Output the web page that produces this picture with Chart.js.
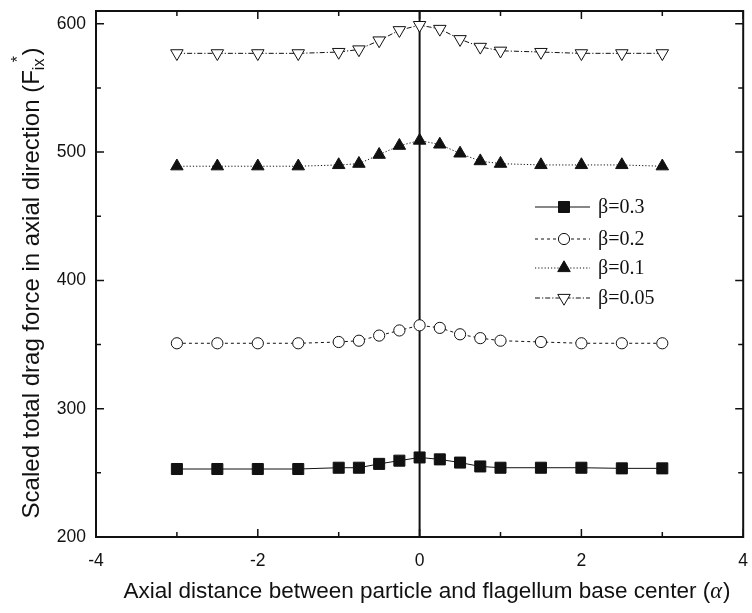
<!DOCTYPE html>
<html>
<head>
<meta charset="utf-8">
<script src="https://cdn.jsdelivr.net/npm/chart.js@4.4.1/dist/chart.umd.min.js"></script>
<style>
  html, body { margin: 0; padding: 0; background: #fff; }
  #wrap { width: 752px; height: 613px; }
</style>
</head>
<body>
<div id="wrap"><canvas id="c" width="752" height="613"></canvas></div>
<script>
// Axial distance (alpha) sampled for every curve
const alphaValues = [-3, -2.5, -2, -1.5, -1, -0.75, -0.5, -0.25, 0, 0.25, 0.5, 0.75, 1, 1.5, 2, 2.5, 3];

// Scaled total drag force for each beta
const beta03  = [253, 253, 253, 253, 254, 254, 257, 259.5, 262, 260.5, 258, 255, 254, 254, 254, 253.5, 253.5];
const beta02  = [351, 351, 351, 351, 352, 353, 357, 361, 365, 363, 358, 355, 353, 352, 351, 351, 351];
const beta01  = [489, 489, 489, 489, 490, 491, 498, 505, 509, 506, 499, 493, 491, 490, 490, 490, 489];
const beta005 = [577, 577, 577, 577, 578, 580, 587, 595, 599, 596, 588, 582, 579, 578, 577, 577, 577];

const seriesLabels = ['β=0.3', 'β=0.2', 'β=0.1', 'β=0.05'];

// Axis ticks
const xMajorTicks = [-4, -2, 0, 2, 4];
const xMinorTicks = [-3, -1, 1, 3];
const yMajorTicks = [200, 300, 400, 500, 600];
const yMinorTicks = [250, 350, 450, 550];

const toPoints = (ys) => ys.map((v, i) => ({ x: alphaValues[i], y: v }));

const INK = '#111';
const SANS = '"Liberation Sans", Arial, sans-serif';
const SERIF = '"Liberation Serif", "Times New Roman", serif';

const datasets = [
  { label: seriesLabels[0], data: toPoints(beta03), borderDash: [],
    pointStyle: 'rect', pointRadius: 7.8, backgroundColor: INK, pointRotation: 0 },
  { label: seriesLabels[1], data: toPoints(beta02), borderDash: [3, 3],
    pointStyle: 'circle', pointRadius: 5.6, backgroundColor: '#fff', pointRotation: 0 },
  { label: seriesLabels[2], data: toPoints(beta01), borderDash: [1.2, 2],
    pointStyle: 'triangle', pointRadius: 7.2, backgroundColor: INK, pointRotation: 0 },
  { label: seriesLabels[3], data: toPoints(beta005), borderDash: [5, 2, 1.2, 2],
    pointStyle: 'triangle', pointRadius: 7.2, backgroundColor: '#fff', pointRotation: 180 }
].map(d => Object.assign({
  showLine: true,
  borderColor: INK,
  borderWidth: 1,
  pointBorderColor: INK,
  pointBackgroundColor: d.backgroundColor,
  pointBorderWidth: 1,
  pointHoverRadius: d.pointRadius,
  tension: 0
}, d));

function drawMarker(ctx, ds, x, y) {
  ctx.save();
  ctx.setLineDash([]);
  ctx.fillStyle = ds.pointBackgroundColor;
  ctx.strokeStyle = ds.pointBorderColor;
  ctx.lineWidth = ds.pointBorderWidth;
  if (Chart.helpers && Chart.helpers.drawPoint) {
    Chart.helpers.drawPoint(ctx, {
      pointStyle: ds.pointStyle, radius: ds.pointRadius,
      rotation: ds.pointRotation, borderWidth: ds.pointBorderWidth
    }, x, y);
  }
  ctx.restore();
}

// Boxed frame, inward ticks, zero line, legend and axis titles
const framePlugin = {
  id: 'framePlugin',
  beforeDatasetsDraw(chart) {
    const { ctx, chartArea: a, scales: { x } } = chart;
    const x0 = x.getPixelForValue(0);
    ctx.save();
    ctx.strokeStyle = INK;
    ctx.lineWidth = 2;
    ctx.beginPath();
    ctx.moveTo(x0, a.top);
    ctx.lineTo(x0, a.bottom);
    ctx.stroke();
    ctx.restore();
  },
  afterDatasetsDraw(chart) {
    const { ctx, chartArea: a, scales: { x, y } } = chart;
    ctx.save();
    ctx.strokeStyle = INK;
    ctx.lineWidth = 2;
    ctx.strokeRect(a.left, a.top, a.right - a.left, a.bottom - a.top);
    ctx.lineWidth = 1.5;
    const major = 8, minor = 5;
    const xTick = (v, len) => {
      const p = x.getPixelForValue(v);
      ctx.beginPath();
      ctx.moveTo(p, a.bottom); ctx.lineTo(p, a.bottom - len);
      ctx.moveTo(p, a.top); ctx.lineTo(p, a.top + len);
      ctx.stroke();
    };
    const yTick = (v, len) => {
      const p = y.getPixelForValue(v);
      ctx.beginPath();
      ctx.moveTo(a.left, p); ctx.lineTo(a.left + len, p);
      ctx.moveTo(a.right, p); ctx.lineTo(a.right - len, p);
      ctx.stroke();
    };
    x.ticks.forEach(t => xTick(t.value, major));
    xMinorTicks.forEach(v => xTick(v, minor));
    y.ticks.forEach(t => yTick(t.value, major));
    yMinorTicks.forEach(v => yTick(v, minor));
    ctx.restore();
  },
  afterDraw(chart) {
    const { ctx } = chart;
    // legend
    ctx.save();
    const rows = [207, 239, 268, 298];
    const lx0 = 535, lx1 = 590, lmid = 564, tx = 598;
    chart.data.datasets.forEach((ds, i) => {
      const ry = rows[i];
      ctx.save();
      ctx.strokeStyle = ds.borderColor;
      ctx.lineWidth = ds.borderWidth;
      ctx.setLineDash(ds.borderDash);
      ctx.beginPath();
      ctx.moveTo(lx0, ry); ctx.lineTo(lx1, ry);
      ctx.stroke();
      ctx.restore();
      drawMarker(ctx, ds, lmid, ry);
      ctx.fillStyle = INK;
      ctx.font = '20px ' + SERIF;
      ctx.textAlign = 'left';
      ctx.textBaseline = 'middle';
      ctx.fillText(ds.label, tx, ry + 1);
    });
    ctx.restore();

    // x title
    ctx.save();
    ctx.fillStyle = INK;
    ctx.textBaseline = 'alphabetic';
    const xMain = 'Axial distance between particle and flagellum base center (';
    const fMain = '22.5px ' + SANS, fAlpha = 'italic 22.5px ' + SERIF;
    ctx.font = fMain; const w1 = ctx.measureText(xMain).width; const w3 = ctx.measureText(')').width;
    ctx.font = fAlpha; const w2 = ctx.measureText('α').width + 1;
    let sx = 427 - (w1 + w2 + w3) / 2;
    const by = 598;
    ctx.font = fMain; ctx.fillText(xMain, sx, by); sx += w1;
    ctx.font = fAlpha; ctx.fillText('α', sx, by); sx += w2;
    ctx.font = fMain; ctx.fillText(')', sx, by);
    ctx.restore();

    // y title
    ctx.save();
    ctx.translate(31, 283);
    ctx.rotate(-Math.PI / 2);
    ctx.fillStyle = INK;
    ctx.textBaseline = 'alphabetic';
    const yMain = 'Scaled total drag force in axial direction (F';
    const fY = '24px ' + SANS;
    const fSub = '16px ' + SANS;
    ctx.font = fY; const m1 = ctx.measureText(yMain).width; const m3 = ctx.measureText(')').width;
    ctx.font = fSub; const m2 = ctx.measureText('ix').width + 3;
    let ox = -(m1 + m2 + m3) / 2;
    const base = 8;
    ctx.font = fY; ctx.fillText(yMain, ox, base); ox += m1;
    ctx.font = fSub; ctx.fillText('ix', ox, base + 5);
    ctx.fillText('*', ox + m2 * 0.55, base - 16); ox += m2;
    ctx.font = fY; ctx.fillText(')', ox, base);
    ctx.restore();
  }
};

new Chart(document.getElementById('c'), {
  type: 'scatter',
  data: { datasets },
  options: {
    responsive: false,
    animation: false,
    devicePixelRatio: 1,
    layout: { padding: { top: 11, right: 8, left: 0, bottom: 0 } },
    plugins: { legend: { display: false }, tooltip: { enabled: false } },
    scales: {
      x: {
        type: 'linear', min: -4, max: 4,
        grid: { display: false, drawTicks: false },
        border: { display: false },
        ticks: { color: INK, font: { family: SANS, size: 17.5 }, padding: 14 },
        afterBuildTicks: (s) => { s.ticks = xMajorTicks.map(v => ({ value: v })); },
        afterFit: (s) => { s.height = 76; s.paddingLeft = 0; s.paddingRight = 0; }
      },
      y: {
        type: 'linear', min: 200, max: 610,
        grid: { display: false, drawTicks: false },
        border: { display: false },
        ticks: { color: INK, font: { family: SANS, size: 17.5 }, padding: 10 },
        afterBuildTicks: (s) => { s.ticks = yMajorTicks.map(v => ({ value: v })); },
        afterFit: (s) => { s.width = 96; s.paddingTop = 0; s.paddingBottom = 0; }
      }
    }
  },
  plugins: [framePlugin]
});
</script>
</body>
</html>
